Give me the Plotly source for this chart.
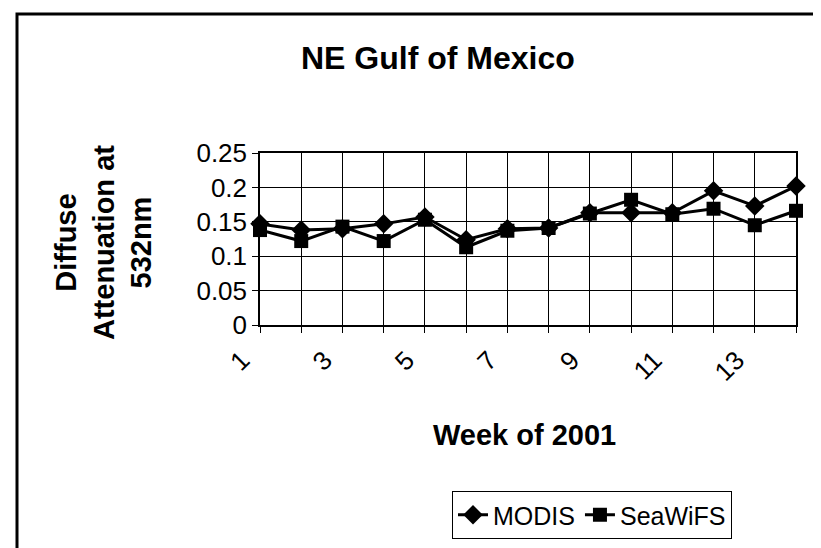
import plotly.graph_objects as go

weeks = list(range(1, 15))
week_labels = [str(w) if w % 2 == 1 else "" for w in weeks]
modis = [0.147, 0.138, 0.140, 0.147, 0.157, 0.124, 0.140, 0.141, 0.163, 0.163, 0.163, 0.195, 0.173, 0.202]
seawifs = [0.138, 0.122, 0.143, 0.122, 0.153, 0.113, 0.137, 0.141, 0.162, 0.182, 0.161, 0.169, 0.145, 0.166]
y_ticks = [0, 0.05, 0.1, 0.15, 0.2, 0.25]
y_ticktext = ["0", "0.05", "0.1", "0.15", "0.2", "0.25"]

W, H = 821, 548
L, R, T, B = 252, 788, 145, 317  # plot area in pixels
pw, ph = R - L, B - T


def px(x):
    return (x - L) / pw


def py(y):
    return (B - y) / ph


FONT = "Liberation Sans, Arial, sans-serif"

fig = go.Figure()
fig.add_trace(go.Scatter(
    x=weeks, y=modis, name="MODIS", mode="lines+markers",
    line=dict(color="black", width=3),
    marker=dict(symbol="diamond", size=15, color="black"),
    cliponaxis=False,
))
fig.add_trace(go.Scatter(
    x=weeks, y=seawifs, name="SeaWiFS", mode="lines+markers",
    line=dict(color="black", width=3),
    marker=dict(symbol="square", size=14, color="black"),
    cliponaxis=False,
))

fig.update_layout(
    width=W, height=H,
    margin=dict(l=L, r=W - R, t=T, b=H - B, pad=0),
    paper_bgcolor="white", plot_bgcolor="white",
    font=dict(family=FONT, color="black", size=26),
    showlegend=True,
    legend=dict(
        orientation="h", x=px(724), xanchor="right", y=py(483), yanchor="top",
        bordercolor="black", borderwidth=1, bgcolor="white",
        font=dict(size=25, family=FONT, color="black"),
        itemwidth=30, tracegroupgap=0,
    ),
    xaxis=dict(
        range=[1, 14], tickvals=weeks, ticktext=week_labels, tickangle=-45,
        showgrid=True, gridcolor="black", gridwidth=1,
        showline=True, linecolor="black", linewidth=1.5, mirror=True,
        ticks="outside", ticklen=6, tickcolor="black",
        ticklabelshift=-18, ticklabelstandoff=2,
        tickfont=dict(size=26, family=FONT), zeroline=False,
    ),
    yaxis=dict(
        range=[0, 0.25], tickvals=y_ticks, ticktext=y_ticktext,
        showgrid=True, gridcolor="black", gridwidth=1,
        showline=True, linecolor="black", linewidth=1.5, mirror=True,
        ticks="outside", ticklen=6, tickcolor="black",
        tickfont=dict(size=26, family=FONT), zeroline=False,
    ),
    annotations=[
        dict(text="<b>NE Gulf of Mexico</b>", xref="paper", yref="paper",
             x=px(430), y=py(50), xanchor="center", yanchor="middle",
             showarrow=False, font=dict(size=32, family=FONT)),
        dict(text="<b>Week of 2001</b>", xref="paper", yref="paper",
             x=px(516), y=py(427), xanchor="center", yanchor="middle",
             showarrow=False, font=dict(size=29, family=FONT)),
        dict(text="<b>Diffuse<br>Attenuation at<br>532nm</b>", xref="paper", yref="paper",
             x=px(95), y=py(235), xanchor="center", yanchor="middle", textangle=-90,
             showarrow=False, font=dict(size=29, family=FONT)),
    ],
    shapes=[
        dict(type="rect", xref="paper", yref="paper",
             x0=px(9), x1=px(840), y0=py(546), y1=py(6),
             line=dict(color="black", width=3), fillcolor="rgba(0,0,0,0)", layer="below"),
    ],
)

fig.write_html("out.html")
